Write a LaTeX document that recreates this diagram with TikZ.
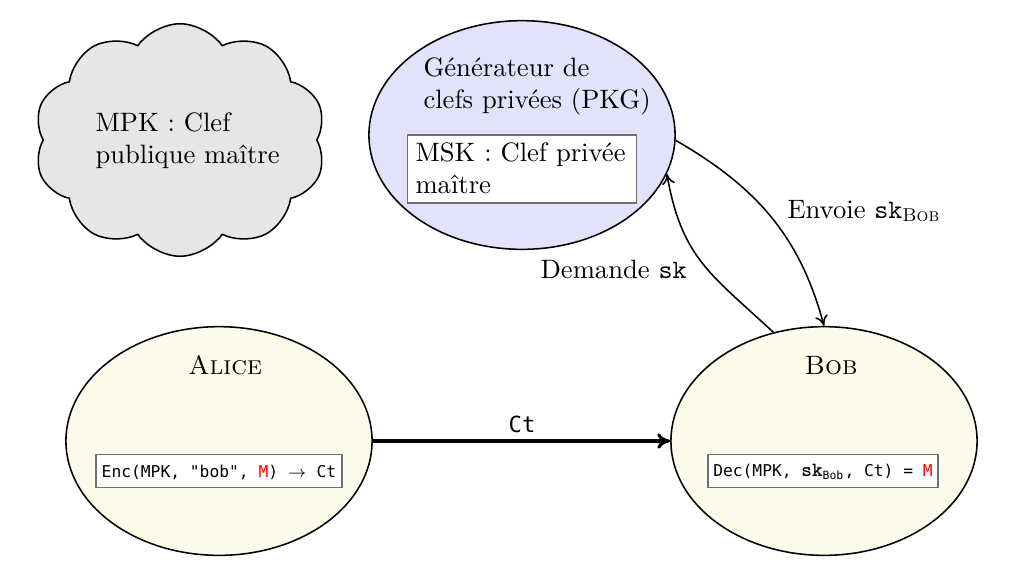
\documentclass[tikz,border=0pt]{standalone}
\usepackage{fontspec}
\usetikzlibrary{shapes.geometric,shapes.symbols,arrows.meta}
\newfontfamily\codefont{DejaVu Sans Mono}
\definecolor{pkgfill}{HTML}{E2E2FB}
\definecolor{userfill}{HTML}{FDFBEA}
\definecolor{cloudfill}{HTML}{E6E6E6}
\definecolor{boxline}{HTML}{707070}
\begin{document}
\begin{tikzpicture}[x=0.387pt,y=-0.387pt,
  party/.style={ellipse,draw=black,semithick,minimum width=118.5pt,minimum height=88.5pt,inner sep=0pt},
  keybox/.style={draw=boxline,fill=white,line width=0.5pt,inner sep=0pt},
  txt/.style={inner sep=0pt,font=\fontsize{10.3}{12.2}\selectfont},
  codetxt/.style={inner sep=0pt,font=\codefont\fontsize{6.3}{7.5}\selectfont},
  conn/.style={semithick,-{To[length=4pt,width=5pt]}},
  bigconn/.style={very thick,-{To[length=5pt,width=6pt]}}]
\useasboundingbox (0,0) rectangle (1010,564);

% cloud
\node[cloud,cloud puffs=10,cloud puff arc=110,aspect=1.3,draw=black,semithick,fill=cloudfill,
      minimum width=113pt,minimum height=90pt,inner sep=0pt] (mpk) at (180,140) {};
\node[txt,anchor=base west,align=left] (mpktxt) at (95,163) {MPK : Clef\\publique maître};

% PKG
\node[party,fill=pkgfill] (pkg) at (522,135) {};
\node[txt,anchor=base west,align=left] (pkgtxt) at (423,108) {Générateur de\\clefs privées (PKG)};
\node[keybox,minimum width=88.6pt,minimum height=26.3pt] (msk) at (522,169) {};
\node[txt,anchor=base west,align=left] (msktxt) at (415,193) {MSK : Clef privée\\maître};

% Alice
\node[party,fill=userfill] (alice) at (219,441) {};
\node[txt,anchor=base] (alicetxt) at (225,374) {\textsc{Alice}};
\node[keybox,minimum width=95.2pt,minimum height=12.8pt] (encbox) at (219,471) {};
\node[codetxt] (enctxt) at (219,472) {Enc(MPK, "bob", \textcolor{red}{M}) $\rightarrow$ Ct};

% Bob
\node[party,fill=userfill] (bob) at (824,441) {};
\node[txt,anchor=base] (bobtxt) at (831,374) {\textsc{Bob}};
\node[keybox,minimum width=89pt,minimum height=12.8pt] (decbox) at (823,471) {};
\node[codetxt] (dectxt) at (823,472) {Dec(MPK, {\ttfamily\bfseries\fontsize{7.8}{9}\selectfont sk}\textsubscript{Bob}, Ct) = \textcolor{red}{M}};

% connectors
\draw[bigconn] (alice.east) -- (bob.west);
\node[inner sep=0pt,font=\codefont\fontsize{8.6}{10}\selectfont,anchor=base] (cttxt) at (522,432) {Ct};

\draw[conn] (bob.115) to[out=137,in=-80,looseness=1.15] (pkg.-15);
\node[txt,anchor=base east] (demtxt) at (687,278) {Demande {\ttfamily sk}};

\draw[conn] (pkg.-2) to[out=-30,in=105] (bob.north);
\node[txt,anchor=base west] (envtxt) at (787,218) {Envoie {\ttfamily sk}\textsubscript{\textsc{Bob}}};
\end{tikzpicture}
\end{document}
